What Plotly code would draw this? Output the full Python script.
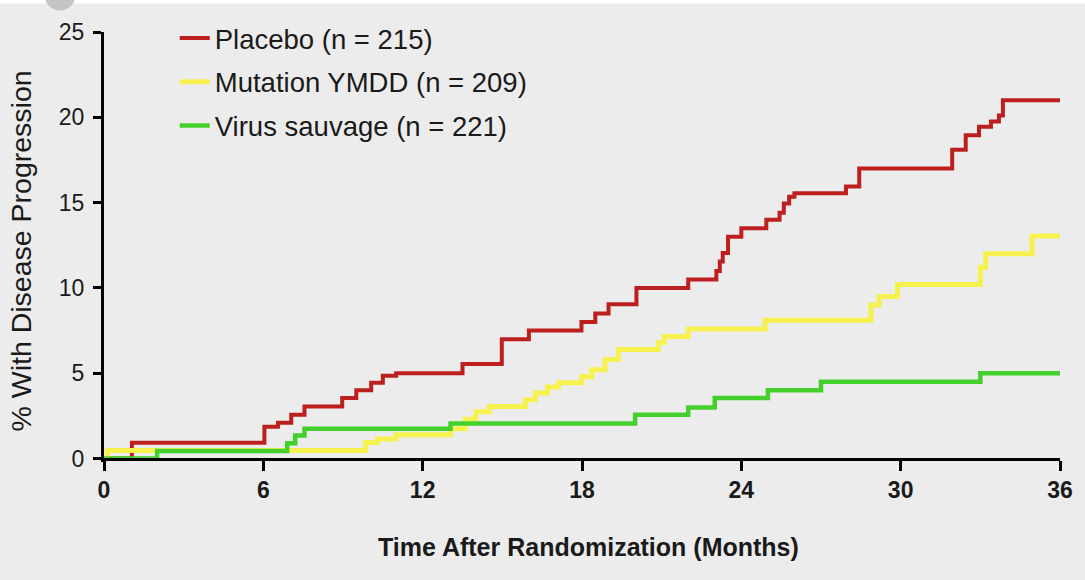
import plotly.graph_objects as go

# Cumulative % with disease progression, step values by month
placebo_t = [0, 1.05, 6.04, 6.55, 7.05, 7.55, 8.97, 9.5, 10.06, 10.5, 11.0, 13.5, 14.98,
             16.0, 17.98, 18.5, 19.0, 20.05, 22.0, 23.06, 23.19, 23.3, 23.5, 24.0, 24.94,
             25.44, 25.6, 25.8, 26.0, 27.94, 28.44, 31.94, 32.45, 32.95, 33.4, 33.7, 33.85, 36]
placebo_v = [0, 0.93, 1.87, 2.1, 2.57, 3.05, 3.55, 4.0, 4.45, 4.85, 5.0, 5.55, 7.0,
             7.5, 8.0, 8.5, 9.05, 10.0, 10.5, 11.0, 11.55, 12.05, 13.0, 13.5, 14.0,
             14.4, 14.95, 15.35, 15.55, 15.95, 17.0, 18.1, 18.95, 19.45, 19.75, 20.1, 21.0, 21.0]

ymdd_t = [0, 0.12, 9.85, 10.3, 11.0, 13.05, 13.6, 14.0, 14.5, 15.87, 16.24, 16.7, 17.12,
          17.99, 18.37, 18.87, 19.37, 20.87, 21.1, 22.0, 24.9, 28.88, 29.19, 29.88, 33.0,
          33.2, 34.95, 36]
ymdd_v = [0, 0.48, 0.95, 1.15, 1.4, 1.75, 2.3, 2.75, 3.05, 3.45, 3.85, 4.2, 4.45,
          4.8, 5.2, 5.8, 6.4, 6.8, 7.15, 7.6, 8.1, 9.0, 9.5, 10.2, 11.2,
          12.0, 13.05, 13.05]

wild_t = [0, 2.0, 6.9, 7.2, 7.55, 13.05, 20.0, 22.0, 23.0, 25.0, 27.0, 33.0, 36]
wild_v = [0, 0.45, 0.9, 1.35, 1.75, 2.05, 2.57, 3.0, 3.55, 4.0, 4.5, 5.0, 5.0]

series_names = ["Placebo (n = 215)", "Mutation YMDD (n = 209)", "Virus sauvage (n = 221)"]
series_colors = ["#bd1f1f", "#f7f150", "#44d02c"]

x_ticks = [0, 6, 12, 18, 24, 30, 36]
y_ticks = [0, 5, 10, 15, 20, 25]

Y_MIN = -0.2
Y_MAX = 25

fig = go.Figure()
for name, color, t, v, w in zip(series_names, series_colors,
                                [placebo_t, ymdd_t, wild_t],
                                [placebo_v, ymdd_v, wild_v],
                                [4, 5, 4.5]):
    fig.add_trace(go.Scatter(
        x=t, y=v, mode="lines", name=name, legendgroup=name,
        line=dict(color=color, width=w, shape="hv"),
    ))

fig.update_layout(
    width=1085, height=580,
    margin=dict(l=104, r=22, t=32, b=118),
    paper_bgcolor="#ececec", plot_bgcolor="#ececec",
    font=dict(family="Liberation Sans, Arial, sans-serif", color="#1a1a1a"),
    showlegend=True,
    legend=dict(
        x=0.074, y=1.043, xanchor="left", yanchor="top",
        bgcolor="rgba(0,0,0,0)", font=dict(size=27.5, color="#1a1a1a"),
        traceorder="grouped", tracegroupgap=5, itemwidth=30,
    ),
    xaxis=dict(
        range=[0, 36], tickvals=x_ticks, showgrid=False, zeroline=False,
        showline=True, linecolor="black", linewidth=3,
        ticks="outside", ticklen=10, tickwidth=3, tickcolor="black",
        tickfont=dict(size=23, weight="bold", color="#1a1a1a"),
        anchor="free", position=(0 - Y_MIN) / (Y_MAX - Y_MIN),
    ),
    yaxis=dict(
        range=[Y_MIN, Y_MAX], tickvals=y_ticks, showgrid=False, zeroline=False,
        showline=True, linecolor="black", linewidth=3,
        ticks="outside", ticklen=8, tickwidth=3, tickcolor="black",
        tickfont=dict(size=23, color="#1a1a1a"), ticklabelstandoff=4,
    ),
    annotations=[
        dict(text="% With Disease Progression", xref="paper", yref="paper",
             x=-0.0866, y=0.49, xanchor="center", yanchor="middle",
             textangle=-90, showarrow=False, font=dict(size=28.5, color="#1a1a1a")),
        dict(text="Time After Randomization (Months)", xref="paper", yref="paper",
             x=0.507, y=-0.197, xanchor="center", yanchor="middle",
             showarrow=False, font=dict(size=25, weight="bold", color="#1a1a1a")),
    ],
    shapes=[
        dict(type="rect", xref="paper", yref="paper", x0=-0.2, x1=1.1,
             y0=1.066, y1=1.2, fillcolor="white", line=dict(width=0), layer="above"),
        dict(type="circle", xref="paper", yref="paper", x0=-0.062, x1=-0.03,
             y0=1.05, y1=1.12, fillcolor="#c4c4c4", line=dict(width=0), layer="above"),
    ],
)

fig.write_html("out.html")
